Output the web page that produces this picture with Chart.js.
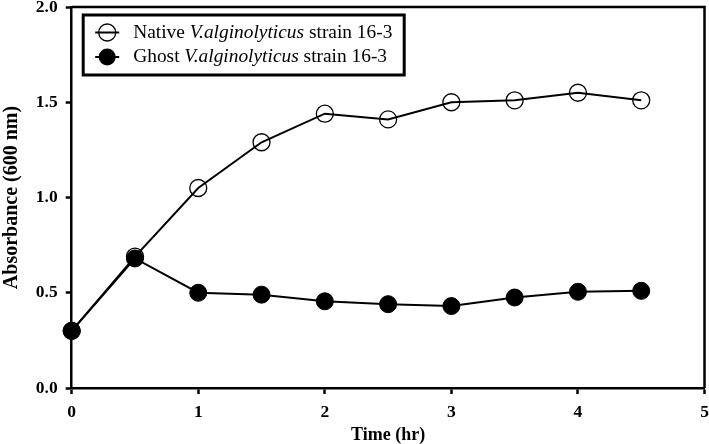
<!DOCTYPE html>
<html><head><meta charset="utf-8">
<script src="https://cdn.jsdelivr.net/npm/chart.js@4/dist/chart.umd.min.js"></script>
<style>html,body{margin:0;padding:0;background:#fff}#wrap{width:709px;height:444px;position:relative}</style>
</head><body><div id="wrap"><canvas id="c" width="709" height="444"></canvas></div>
<script>
const timeHr = [0, 0.5, 1, 1.5, 2, 2.5, 3, 3.5, 4, 4.5];
const nativeAbs = [0.30, 0.69, 1.05, 1.29, 1.44, 1.41, 1.50, 1.51, 1.55, 1.51];
const ghostAbs = [0.30, 0.68, 0.50, 0.49, 0.455, 0.44, 0.43, 0.475, 0.505, 0.51];
const xTickValues = [0, 1, 2, 3, 4, 5];
const yTickValues = [0.0, 0.5, 1.0, 1.5, 2.0];
const seriesNames = [
  ["Native ", "V.alginolyticus", " strain 16-3"],
  ["Ghost ", "V.alginolyticus", " strain 16-3"]
];
const xTitle = "Time (hr)";
const yTitle = "Absorbance (600 nm)";

const FONT = '"Liberation Serif", "Times New Roman", serif';
const pts = arr => timeHr.map((t, i) => ({x: t, y: arr[i]}));

// pin the plot area to the reference frame
const AREA = {left: 71.7, top: 7, right: 704.5, bottom: 388};
const areaPlugin = {
  id: 'fixArea',
  afterLayout(chart) {
    const x = chart.scales.x, y = chart.scales.y, ca = chart.chartArea;
    Object.assign(ca, AREA);
    ca.width = AREA.right - AREA.left; ca.height = AREA.bottom - AREA.top;
    x.left = AREA.left; x.right = AREA.right; x.width = x.right - x.left;
    x.top = AREA.bottom; x.bottom = chart.height; x.height = x.bottom - x.top;
    y.left = 0; y.right = AREA.left; y.width = AREA.left;
    y.top = AREA.top; y.bottom = AREA.bottom; y.height = y.bottom - y.top;
    x.configure(); y.configure();
  }
};

const framePlugin = {
  id: 'frameLegend',
  afterDraw(chart) {
    const ctx = chart.ctx, ca = chart.chartArea;
    ctx.save();
    ctx.strokeStyle = '#000';
    ctx.lineWidth = 2.5;
    ctx.beginPath();
    ctx.moveTo(ca.left, ca.top);
    ctx.lineTo(ca.right, ca.top);
    ctx.lineTo(ca.right, ca.bottom);
    ctx.stroke();
    // legend
    const bx = ca.left + 11.5, by = ca.top + 8, bw = 321, bh = 60;
    ctx.fillStyle = '#fff';
    ctx.fillRect(bx, by, bw, bh);
    ctx.lineWidth = 3;
    ctx.strokeRect(bx, by, bw, bh);
    const rows = [by + 17.5, by + 42];
    rows.forEach((ry, i) => {
      ctx.lineWidth = 2;
      ctx.beginPath();
      ctx.moveTo(bx + 12, ry);
      ctx.lineTo(bx + 36, ry);
      ctx.stroke();
      ctx.beginPath();
      ctx.arc(bx + 24, ry, 8.5, 0, Math.PI * 2);
      if (i === 1) { ctx.fillStyle = '#000'; ctx.fill(); }
      else { ctx.lineWidth = 1.3; ctx.stroke(); }
      let tx = bx + 50;
      ctx.fillStyle = '#000';
      ctx.textBaseline = 'middle';
      ctx.textAlign = 'left';
      seriesNames[i].forEach((part, j) => {
        ctx.font = (j === 1 ? 'italic ' : '') + '19.4px ' + FONT;
        ctx.fillText(part, tx, ry);
        tx += ctx.measureText(part).width;
      });
    });
    ctx.restore();
  }
};

new Chart(document.getElementById('c'), {
  type: 'line',
  data: {
    datasets: [
      {
        label: seriesNames[0].join(''),
        data: pts(nativeAbs),
        borderColor: '#000', borderWidth: 2,
        pointRadius: 8.5, pointBorderWidth: 1.3,
        pointBackgroundColor: 'rgba(0,0,0,0)', pointBorderColor: '#000',
        order: 2, clip: false, tension: 0
      },
      {
        label: seriesNames[1].join(''),
        data: pts(ghostAbs),
        borderColor: '#000', borderWidth: 2,
        pointRadius: 8.5, pointBorderWidth: 1,
        pointBackgroundColor: '#000', pointBorderColor: '#000',
        order: 1, clip: false, tension: 0
      }
    ]
  },
  options: {
    responsive: false,
    animation: false,
    devicePixelRatio: 1,
    layout: {padding: {top: 7, right: 4.5, left: 0, bottom: 0}},
    plugins: {legend: {display: false}, tooltip: {enabled: false}},
    scales: {
      x: {
        type: 'linear', min: 0, max: 5,
        afterBuildTicks: s => { s.ticks = xTickValues.map(v => ({value: v})); },
        afterFit: s => { s.height = 56; },
        grid: {display: true, drawOnChartArea: false, tickLength: 6, tickWidth: 2.5, tickColor: '#000'},
        border: {display: true, color: '#000', width: 2.5},
        ticks: {color: '#000', padding: 8, font: {family: FONT, size: 17.5, weight: 'bold'}, callback: v => String(v), maxRotation: 0},
        title: {display: true, text: xTitle, color: '#000', padding: {top: 0, bottom: 0}, font: {family: FONT, size: 18, weight: 'bold', lineHeight: 1.0}}
      },
      y: {
        type: 'linear', min: 0, max: 2,
        afterBuildTicks: s => { s.ticks = yTickValues.map(v => ({value: v})); },
        afterFit: s => { s.width = 71.7; },
        grid: {display: true, drawOnChartArea: false, tickLength: 6, tickWidth: 2.5, tickColor: '#000'},
        border: {display: true, color: '#000', width: 2.5},
        ticks: {color: '#000', padding: 8, font: {family: FONT, size: 17.5, weight: 'bold', lineHeight: 0.8}, callback: v => Number(v).toFixed(1)},
        title: {display: true, text: yTitle, color: '#000', padding: {top: 0, bottom: 0}, font: {family: FONT, size: 20, weight: 'bold', lineHeight: 1.2}}
      }
    }
  },
  plugins: [areaPlugin, framePlugin]
});
</script>
</body></html>
